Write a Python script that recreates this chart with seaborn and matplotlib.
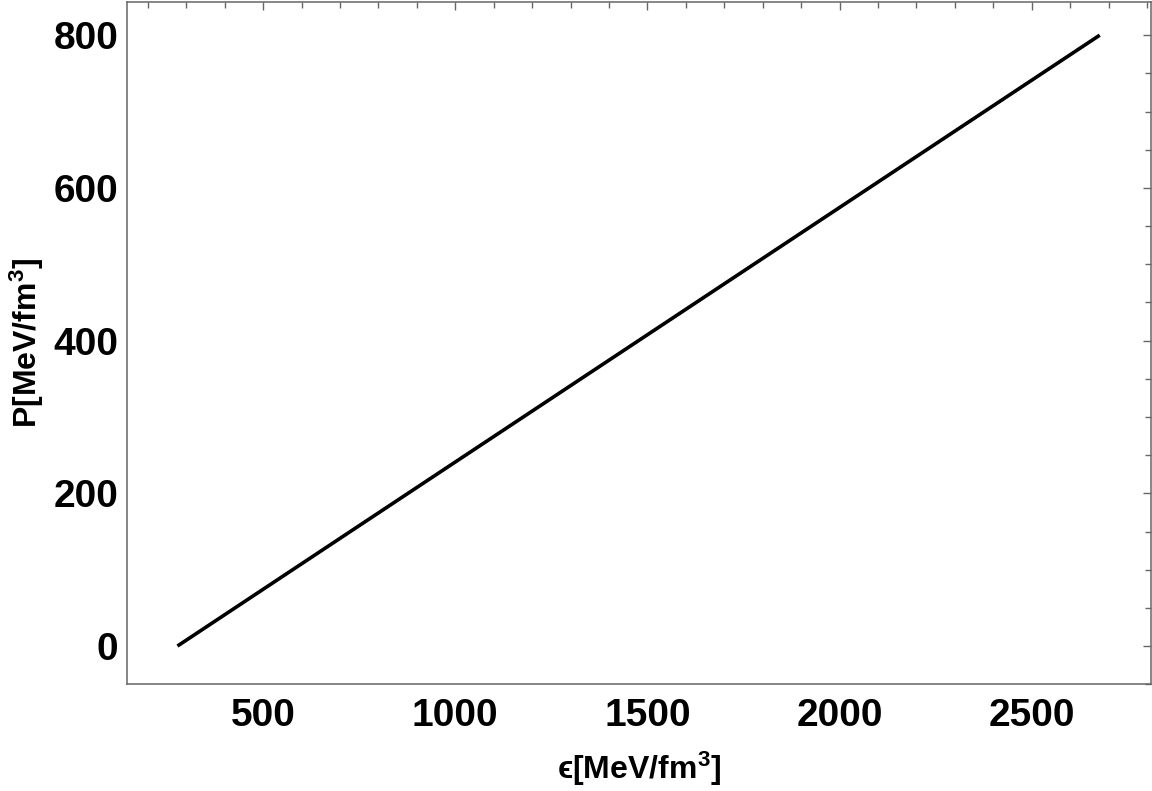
import matplotlib

matplotlib.use("Agg")
import matplotlib.pyplot as plt
import pandas as pd
import seaborn as sns

# equation of state (bag-model like straight line)
energy_density = [277, 2677]
pressure = [0, 800]

x_ticks = [500, 1000, 1500, 2000, 2500]
y_ticks = [0, 200, 400, 600, 800]

frame_color = "#666666"

sns.set_style("white")
plt.rcParams["font.family"] = ["Liberation Sans", "DejaVu Sans"]
plt.rcParams["font.weight"] = "bold"
plt.rcParams["mathtext.fontset"] = "custom"
plt.rcParams["mathtext.rm"] = "Liberation Sans:bold"
plt.rcParams["mathtext.bf"] = "Liberation Sans:bold"
plt.rcParams["mathtext.it"] = "DejaVu Sans:bold"
plt.rcParams["mathtext.default"] = "bf"

df = pd.DataFrame({"eps": energy_density, "P": pressure})

fig = plt.figure(figsize=(11.52, 7.91), dpi=100)
ax = fig.add_axes([0.110, 0.135, 0.889, 0.863])

sns.lineplot(data=df, x="eps", y="P", ax=ax, color="black", linewidth=2.6)
ax.lines[0].set_solid_capstyle("butt")

ax.set_xlim(145, 2810)
ax.set_ylim(-44, 844)
ax.set_xticks(x_ticks)
ax.set_yticks(y_ticks)
ax.set_xticks(range(200, 2900, 100), minor=True)
ax.set_yticks(range(-50, 850, 50), minor=True)

for s in ax.spines.values():
    s.set_visible(True)
    s.set_color(frame_color)
    s.set_linewidth(1.1)

ax.tick_params(which="both", direction="in", top=True, right=True,
               color=frame_color, width=1.0)
ax.tick_params(which="major", length=6)
ax.tick_params(which="minor", length=4)
ax.tick_params(axis="x", which="major", pad=10)
ax.tick_params(axis="y", which="major", pad=6)

for lab in ax.get_xticklabels() + ax.get_yticklabels():
    lab.set_fontsize(28)
    lab.set_fontweight("bold")
    lab.set_color("black")

ax.set_xlabel("ϵ[MeV/fm$^{3}$]", fontsize=23, fontweight="bold",
              color="black", labelpad=11)
ax.set_ylabel("P[MeV/fm$^{3}$]", fontsize=23, fontweight="bold",
              color="black", labelpad=5)

fig.savefig("out.png", dpi=100)
